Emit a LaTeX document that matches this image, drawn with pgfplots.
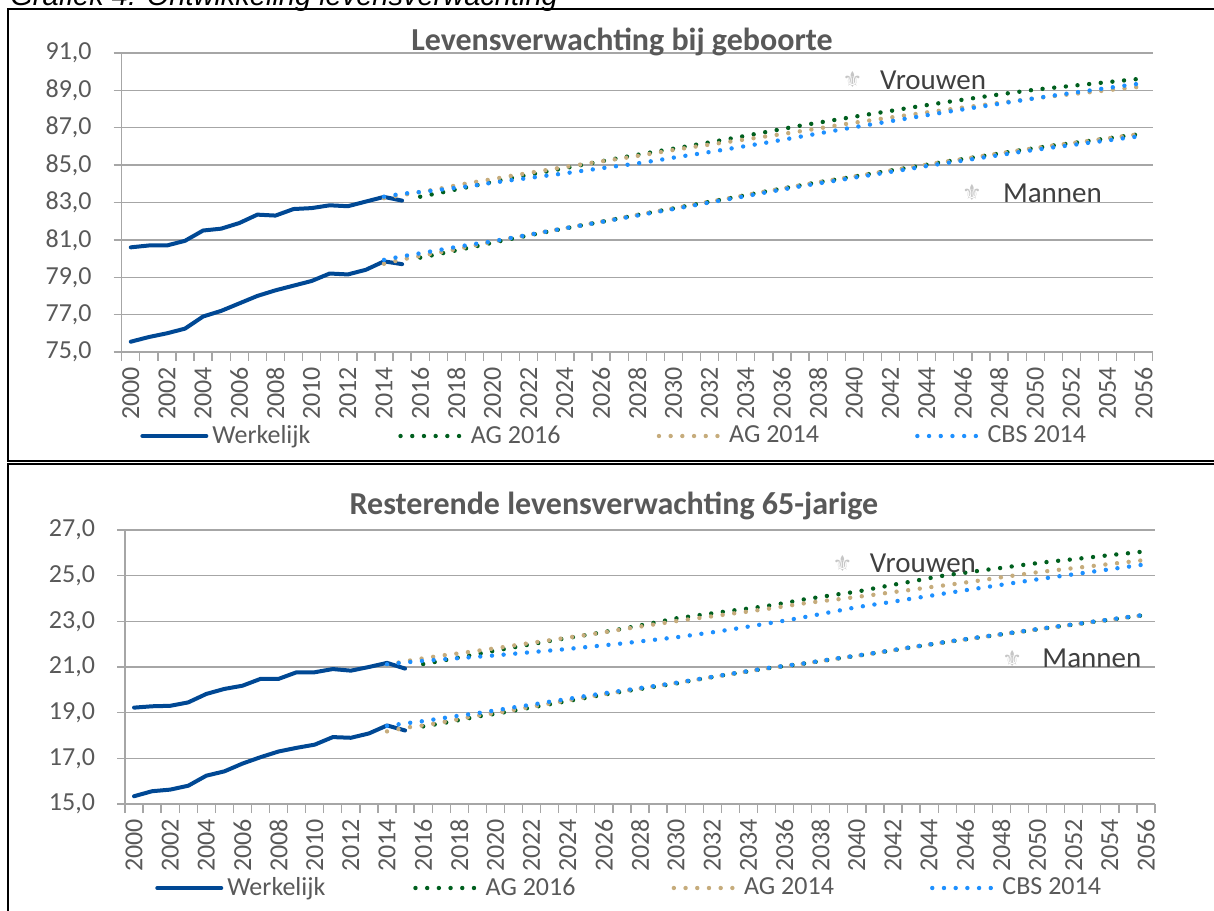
\documentclass[border=0pt]{standalone}
\usepackage{pgfplots}
\pgfplotsset{compat=1.18}
\usepackage{pgfplotstable}
\usepackage{fontspec}
\setmainfont{Carlito}
\newfontfamily\headfont{Liberation Sans}
\newfontfamily\symfont{DejaVu Sans}
\definecolor{werk}{RGB}{0,72,148}
\definecolor{agsix}{RGB}{0,95,30}
\definecolor{agfour}{RGB}{198,172,124}
\definecolor{cbs}{RGB}{30,144,255}
\definecolor{gridc}{RGB}{166,166,166}
\definecolor{txt}{RGB}{89,89,89}
\definecolor{lbl}{RGB}{64,64,64}

\pgfplotstableread{
year WV WM GV TV BV GM TM BM
2000 80.60 75.55 nan nan nan nan nan nan
2001 80.70 75.80 nan nan nan nan nan nan
2002 80.70 76.00 nan nan nan nan nan nan
2003 80.95 76.25 nan nan nan nan nan nan
2004 81.50 76.90 nan nan nan nan nan nan
2005 81.60 77.20 nan nan nan nan nan nan
2006 81.90 77.60 nan nan nan nan nan nan
2007 82.35 78.00 nan nan nan nan nan nan
2008 82.30 78.30 nan nan nan nan nan nan
2009 82.65 78.55 nan nan nan nan nan nan
2010 82.70 78.80 nan nan nan nan nan nan
2011 82.85 79.20 nan nan nan nan nan nan
2012 82.80 79.15 nan nan nan nan nan nan
2013 83.05 79.40 nan nan nan nan nan nan
2014 83.30 79.85 nan 83.23 83.31 nan 79.72 79.93
2015 83.10 79.70 nan 83.40 83.47 nan 79.95 80.12
2016 nan nan 83.31 83.56 83.56 80.05 80.14 80.28
2017 nan nan 83.50 83.72 83.67 80.24 80.32 80.45
2018 nan nan 83.70 83.92 83.79 80.44 80.50 80.62
2019 nan nan 83.90 84.09 83.91 80.64 80.70 80.78
2020 nan nan 84.10 84.25 84.06 80.85 80.90 80.92
2021 nan nan 84.30 84.42 84.19 81.05 81.09 81.10
2022 nan nan 84.48 84.58 84.31 81.24 81.27 81.27
2023 nan nan 84.66 84.74 84.44 81.43 81.45 81.45
2024 nan nan 84.84 84.90 84.56 81.61 81.62 81.62
2025 nan nan 85.02 85.05 84.70 81.79 81.80 81.79
2026 nan nan 85.20 85.20 84.83 81.96 81.97 81.96
2027 nan nan 85.38 85.34 84.96 82.15 82.15 82.13
2028 nan nan 85.55 85.49 85.09 82.33 82.33 82.30
2029 nan nan 85.72 85.65 85.24 82.51 82.51 82.48
2030 nan nan 85.88 85.81 85.40 82.68 82.68 82.65
2031 nan nan 86.05 85.96 85.55 82.86 82.86 82.82
2032 nan nan 86.22 86.10 85.70 83.04 83.04 83.00
2033 nan nan 86.39 86.24 85.86 83.21 83.21 83.17
2034 nan nan 86.57 86.38 86.02 83.39 83.39 83.34
2035 nan nan 86.75 86.52 86.18 83.57 83.57 83.52
2036 nan nan 86.93 86.66 86.35 83.74 83.74 83.69
2037 nan nan 87.11 86.81 86.52 83.91 83.91 83.86
2038 nan nan 87.27 86.96 86.69 84.08 84.08 84.02
2039 nan nan 87.43 87.12 86.86 84.23 84.23 84.17
2040 nan nan 87.59 87.27 87.03 84.39 84.39 84.33
2041 nan nan 87.75 87.41 87.19 84.55 84.55 84.48
2042 nan nan 87.90 87.55 87.35 84.71 84.71 84.64
2043 nan nan 88.06 87.68 87.51 84.86 84.86 84.79
2044 nan nan 88.21 87.82 87.67 85.02 85.02 84.95
2045 nan nan 88.36 87.95 87.83 85.18 85.18 85.10
2046 nan nan 88.50 88.08 87.98 85.32 85.32 85.24
2047 nan nan 88.64 88.20 88.13 85.47 85.47 85.39
2048 nan nan 88.78 88.33 88.28 85.62 85.62 85.53
2049 nan nan 88.91 88.45 88.43 85.77 85.77 85.68
2050 nan nan 89.04 88.58 88.58 85.91 85.91 85.82
2051 nan nan 89.14 88.69 88.72 86.05 86.05 85.95
2052 nan nan 89.24 88.80 88.86 86.17 86.17 86.07
2053 nan nan 89.34 88.90 88.99 86.30 86.30 86.20
2054 nan nan 89.44 89.01 89.13 86.43 86.43 86.32
2055 nan nan 89.54 89.11 89.26 86.56 86.56 86.45
2056 nan nan 89.64 89.22 89.39 86.68 86.68 86.57
}\toptable

\pgfplotstableread{
year WV WM GV TV BV GM TM BM
2000 19.22 15.34 nan nan nan nan nan nan
2001 19.28 15.56 nan nan nan nan nan nan
2002 19.30 15.63 nan nan nan nan nan nan
2003 19.45 15.80 nan nan nan nan nan nan
2004 19.82 16.24 nan nan nan nan nan nan
2005 20.04 16.43 nan nan nan nan nan nan
2006 20.18 16.77 nan nan nan nan nan nan
2007 20.48 17.05 nan nan nan nan nan nan
2008 20.48 17.30 nan nan nan nan nan nan
2009 20.77 17.46 nan nan nan nan nan nan
2010 20.77 17.60 nan nan nan nan nan nan
2011 20.91 17.93 nan nan nan nan nan nan
2012 20.84 17.90 nan nan nan nan nan nan
2013 21.00 18.09 nan nan nan nan nan nan
2014 21.18 18.44 nan 21.10 21.12 nan 18.18 18.42
2015 20.93 18.22 nan 21.25 21.20 nan 18.34 18.53
2016 nan nan 21.13 21.38 21.27 18.40 18.44 18.63
2017 nan nan 21.27 21.50 21.33 18.53 18.57 18.75
2018 nan nan 21.42 21.60 21.39 18.68 18.72 18.87
2019 nan nan 21.57 21.71 21.45 18.83 18.87 18.98
2020 nan nan 21.72 21.82 21.51 18.95 18.98 19.10
2021 nan nan 21.86 21.94 21.58 19.09 19.12 19.23
2022 nan nan 22.00 22.06 21.65 19.23 19.26 19.35
2023 nan nan 22.14 22.17 21.72 19.37 19.40 19.48
2024 nan nan 22.27 22.29 21.79 19.51 19.54 19.60
2025 nan nan 22.40 22.40 21.87 19.65 19.68 19.73
2026 nan nan 22.53 22.52 21.95 19.79 19.81 19.85
2027 nan nan 22.67 22.65 22.03 19.92 19.94 19.96
2028 nan nan 22.82 22.77 22.12 20.04 20.06 20.08
2029 nan nan 22.97 22.89 22.21 20.16 20.18 20.19
2030 nan nan 23.13 23.01 22.30 20.28 20.30 20.31
2031 nan nan 23.24 23.12 22.41 20.43 20.43 20.44
2032 nan nan 23.35 23.22 22.52 20.56 20.56 20.57
2033 nan nan 23.46 23.33 22.64 20.69 20.69 20.70
2034 nan nan 23.56 23.43 22.77 20.81 20.81 20.82
2035 nan nan 23.67 23.54 22.90 20.94 20.94 20.95
2036 nan nan 23.80 23.66 23.03 21.04 21.04 21.05
2037 nan nan 23.95 23.78 23.17 21.14 21.14 21.15
2038 nan nan 24.07 23.88 23.32 21.26 21.26 21.27
2039 nan nan 24.19 23.97 23.47 21.38 21.38 21.39
2040 nan nan 24.30 24.07 23.62 21.49 21.49 21.50
2041 nan nan 24.45 24.17 23.74 21.61 21.61 21.62
2042 nan nan 24.60 24.28 23.86 21.73 21.73 21.74
2043 nan nan 24.74 24.38 23.99 21.86 21.86 21.87
2044 nan nan 24.89 24.49 24.11 21.98 21.98 21.99
2045 nan nan 25.03 24.59 24.24 22.10 22.10 22.11
2046 nan nan 25.13 24.70 24.36 22.21 22.21 22.22
2047 nan nan 25.24 24.81 24.48 22.32 22.32 22.33
2048 nan nan 25.34 24.93 24.60 22.43 22.43 22.44
2049 nan nan 25.45 25.04 24.72 22.54 22.54 22.55
2050 nan nan 25.55 25.15 24.84 22.65 22.65 22.66
2051 nan nan 25.64 25.24 24.95 22.76 22.76 22.77
2052 nan nan 25.72 25.33 25.06 22.86 22.86 22.87
2053 nan nan 25.81 25.42 25.17 22.97 22.97 22.98
2054 nan nan 25.90 25.51 25.28 23.07 23.07 23.08
2055 nan nan 25.98 25.60 25.39 23.18 23.18 23.19
2056 nan nan 26.07 25.69 25.50 23.28 23.28 23.29
}\bottable

\pgfplotsset{
  panel/.style={
    scale only axis,
    xmin=1999.5, xmax=2056.5,
    xtick={2000,2002,...,2056},
    minor xtick={1999.5,2000.5,...,2056.5},
    tick align=outside,
    major tick length=4pt, minor tick length=4.5pt,
    major x tick style={draw=none},
    minor x tick style={gridc, line width=0.65pt},
    ytick style={gridc, line width=0.65pt},
    axis lines*=left,
    axis line style={-, gridc, line width=0.65pt},
    ymajorgrids,
    major grid style={gridc, line width=0.65pt},
    tick label style={font=\fontsize{13}{15}\selectfont, text=txt},
    x tick label style={rotate=90, anchor=east, /pgf/number format/1000 sep={}, /pgf/number format/assume math mode=true},
    y tick label style={xshift=-7.5pt, /pgf/number format/fixed, /pgf/number format/fixed zerofill, /pgf/number format/precision=1, /pgf/number format/use comma, /pgf/number format/assume math mode=true},
    no markers,
    clip=false,
    legend columns=4,
    legend style={draw=none, fill=none, inner sep=0pt, column sep=0pt, font=\fontsize{13}{15}\selectfont, text=txt},
    legend image code/.code={\draw[##1] (0pt,0pt) -- (32pt,0pt);},
  },
  werkl/.style={werk, line width=2pt, line join=round, line cap=round},
  dots/.style={line width=2.2pt, line cap=round, dash pattern=on 0pt off 5.85pt},
}

\begin{document}
\begin{tikzpicture}
\path[use as bounding box] (0pt,0pt) rectangle (607pt,455pt);
\begin{scope}
\clip (0pt,0pt) rectangle (607pt,455pt);
% frames
\draw[black, line width=1pt] (4pt,224.5pt) rectangle (615pt,450.5pt);
\draw[black, line width=1pt] (4pt,-5pt) rectangle (615pt,223pt);
\node[anchor=base west, inner sep=0pt, font=\headfont\itshape\fontsize{14.5}{16}\selectfont] at (5pt,452pt) {Grafiek 4: Ontwikkeling levensverwachting};
\end{scope}

\begin{axis}[panel,
  at={(60.85pt,279pt)}, anchor=south west,
  width=515.55pt, height=149.5pt,
  ymin=75, ymax=91, ytick={75,77,...,91},
  legend style={at={(0.0177,-0.281)}, anchor=west},
]
\addplot[werkl] table[x=year,y=WV]{\toptable};
\addlegendentry{\makebox[91pt][l]{Werkelijk}}
\addplot[werkl, forget plot] table[x=year,y=WM]{\toptable};
\addplot[agsix, dots] table[x=year,y=GV]{\toptable};
\addlegendentry{\makebox[91pt][l]{AG 2016}}
\addplot[agsix, dots, forget plot] table[x=year,y=GM]{\toptable};
\addplot[agfour, dots] table[x=year,y=TV]{\toptable};
\addlegendentry{\makebox[91pt][l]{AG 2014}}
\addplot[agfour, dots, forget plot] table[x=year,y=TM]{\toptable};
\addplot[cbs, dots] table[x=year,y=BV]{\toptable};
\addlegendentry{\makebox[91pt][l]{CBS 2014}}
\addplot[cbs, dots, forget plot] table[x=year,y=BM]{\toptable};
\node[font=\symfont\fontsize{11}{12}\selectfont, text=gray!45] at (axis cs:2039.9,89.56) {⚜};
\node[anchor=west, inner sep=0pt, font=\fontsize{14.5}{16}\selectfont, text=lbl] at (axis cs:2041.4,89.56) {Vrouwen};
\node[font=\symfont\fontsize{11}{12}\selectfont, text=gray!45] at (axis cs:2046.5,83.51) {⚜};
\node[anchor=west, inner sep=0pt, font=\fontsize{14.5}{16}\selectfont, text=lbl] at (axis cs:2048.2,83.51) {Mannen};
\end{axis}
\node[anchor=base, font=\bfseries\fontsize{16}{18}\selectfont, text=txt] at (311pt,429.5pt) {Levensverwachting bij geboorte};

\begin{axis}[panel,
  at={(62.5pt,53pt)}, anchor=south west,
  width=515pt, height=137pt,
  ymin=15, ymax=27, ytick={15,17,...,27},
  legend style={at={(0.029,-0.3066)}, anchor=west},
]
\addplot[werkl] table[x=year,y=WV]{\bottable};
\addlegendentry{\makebox[91pt][l]{Werkelijk}}
\addplot[werkl, forget plot] table[x=year,y=WM]{\bottable};
\addplot[agsix, dots] table[x=year,y=GV]{\bottable};
\addlegendentry{\makebox[91pt][l]{AG 2016}}
\addplot[agsix, dots, forget plot] table[x=year,y=GM]{\bottable};
\addplot[agfour, dots] table[x=year,y=TV]{\bottable};
\addlegendentry{\makebox[91pt][l]{AG 2014}}
\addplot[agfour, dots, forget plot] table[x=year,y=TM]{\bottable};
\addplot[cbs, dots] table[x=year,y=BV]{\bottable};
\addlegendentry{\makebox[91pt][l]{CBS 2014}}
\addplot[cbs, dots, forget plot] table[x=year,y=BM]{\bottable};
\node[font=\symfont\fontsize{11}{12}\selectfont, text=gray!45] at (axis cs:2039.2,25.55) {⚜};
\node[anchor=west, inner sep=0pt, font=\fontsize{14.5}{16}\selectfont, text=lbl] at (axis cs:2040.7,25.55) {Vrouwen};
\node[font=\symfont\fontsize{11}{12}\selectfont, text=gray!45] at (axis cs:2048.6,21.39) {⚜};
\node[anchor=west, inner sep=0pt, font=\fontsize{14.5}{16}\selectfont, text=lbl] at (axis cs:2050.25,21.39) {Mannen};
\end{axis}
\node[anchor=base, font=\bfseries\fontsize{16}{18}\selectfont, text=txt] at (307pt,197.5pt) {Resterende levensverwachting 65-jarige};
\end{tikzpicture}
\end{document}
